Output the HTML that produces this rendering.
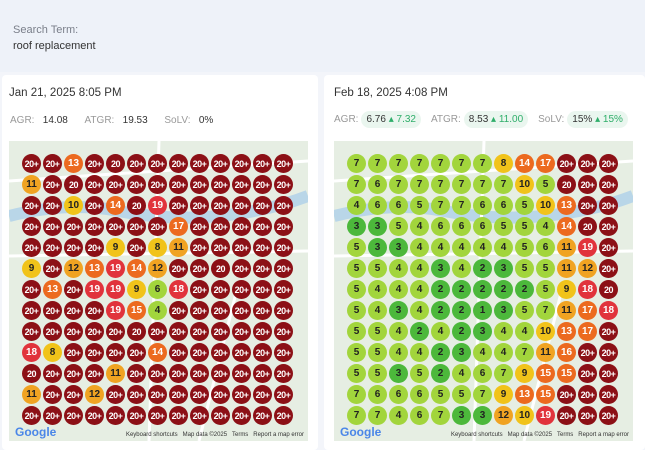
<!DOCTYPE html>
<html><head><meta charset="utf-8"><style>
*{margin:0;padding:0;box-sizing:border-box}
body{width:645px;height:450px;overflow:hidden;background:#f3f5fa;font-family:"Liberation Sans",sans-serif;position:relative}
.top{position:absolute;left:0;top:0;width:645px;height:72px;background:#eef2f9}
.lbl{position:absolute;left:13px;top:24px;font-size:11px;color:#7a7f8a}
.term{position:absolute;left:13px;top:40px;font-size:11px;color:#333}
.card{position:absolute;top:75px;height:375px;background:#fff;border-radius:4px}
.date{position:absolute;top:12px;font-size:11.5px;color:#333}
.stats{position:absolute;top:40px;font-size:10px;color:#999;display:flex;align-items:center;white-space:nowrap}
.stats b{font-weight:normal;color:#333}
.pill{background:#eaf6ef;border-radius:9px;padding:3px 5px;color:#333;margin-left:3px;margin-right:10px;white-space:nowrap;display:inline-block}
.pill s{text-decoration:none;color:#2fae6a}
.map{position:absolute;top:141px;width:299px;height:300px;background:#e6eee3;overflow:hidden}
.grid{position:absolute;top:153px;display:grid;grid-template-columns:repeat(13,21px);grid-auto-rows:21px}
.grid i{font-style:normal;width:19px;height:19px;margin:1px;border-radius:50%;display:flex;align-items:center;justify-content:center;font-size:10px;font-weight:bold;color:#222}
.a{background:#4cb83b}.b{background:#a2d53c}.c{background:#f1c31a}.d{background:#f0a322}
.e{background:#ec6a1f;color:#fff!important}.f{background:#e1333c;color:#fff!important}.x{background:#8c1016;color:#fff!important;font-size:9px!important;letter-spacing:-.5px}
.ft{position:absolute;bottom:3px;right:4px;font-size:6px;color:#333}
.g{position:absolute;bottom:2px;left:6px;font-size:12px;font-weight:bold;color:#4a86e8}
</style></head><body>
<div class="top"></div>
<div class="lbl">Search Term:</div>
<div class="term">roof replacement</div>

<div class="card" style="left:2px;width:316px">
<div class="date" style="left:7px">Jan 21, 2025 8:05 PM</div>
<div class="stats" style="left:8px">AGR:&nbsp;&nbsp;&nbsp;<b>14.08</b>&nbsp;&nbsp;&nbsp;&nbsp;&nbsp;&nbsp;ATGR:&nbsp;&nbsp;&nbsp;<b>19.53</b>&nbsp;&nbsp;&nbsp;&nbsp;&nbsp;&nbsp;SoLV:&nbsp;&nbsp;&nbsp;<b>0%</b></div>
</div>
<div class="card" style="left:324px;width:321px">
<div class="date" style="left:10px">Feb 18, 2025 4:08 PM</div>
<div class="stats" style="left:10px;top:36px">AGR:<span class="pill">6.76 <s>▴ 7.32</s></span>ATGR:<span class="pill">8.53 <s>▴ 11.00</s></span>SoLV:<span class="pill">15% <s>▴ 15%</s></span></div>
</div>

<div class="map" style="left:9px"><svg width="299" height="300"><path d="M0 75 Q60 60 110 70 T210 75 T299 55" stroke="#b9d6e8" stroke-width="12" fill="none"/><path d="M0 40 L299 20 M0 115 L299 110 M150 0 L140 300 M230 140 L190 300" stroke="#fff" stroke-width="3" fill="none"/></svg>
<div class="g">Google</div><div class="ft">Keyboard shortcuts &nbsp; Map data ©2025 &nbsp; Terms &nbsp; Report a map error</div></div>
<div class="map" style="left:334px"><svg width="299" height="300"><path d="M0 75 Q60 60 110 70 T210 75 T299 55" stroke="#b9d6e8" stroke-width="12" fill="none"/><path d="M0 40 L299 20 M0 115 L299 110 M150 0 L140 300 M230 140 L190 300" stroke="#fff" stroke-width="3" fill="none"/></svg>
<div class="g">Google</div><div class="ft">Keyboard shortcuts &nbsp; Map data ©2025 &nbsp; Terms &nbsp; Report a map error</div></div>

<div class="grid" style="left:21px">
<i class="x">20+</i><i class="x">20+</i><i class="e">13</i><i class="x">20+</i><i class="x">20</i><i class="x">20+</i><i class="x">20+</i><i class="x">20+</i><i class="x">20+</i><i class="x">20+</i><i class="x">20+</i><i class="x">20+</i><i class="x">20+</i>
<i class="d">11</i><i class="x">20+</i><i class="x">20</i><i class="x">20+</i><i class="x">20+</i><i class="x">20+</i><i class="x">20+</i><i class="x">20+</i><i class="x">20+</i><i class="x">20+</i><i class="x">20+</i><i class="x">20+</i><i class="x">20+</i>
<i class="x">20+</i><i class="x">20+</i><i class="c">10</i><i class="x">20+</i><i class="e">14</i><i class="x">20</i><i class="f">19</i><i class="x">20+</i><i class="x">20+</i><i class="x">20+</i><i class="x">20+</i><i class="x">20+</i><i class="x">20+</i>
<i class="x">20+</i><i class="x">20+</i><i class="x">20+</i><i class="x">20+</i><i class="x">20+</i><i class="x">20+</i><i class="x">20+</i><i class="e">17</i><i class="x">20+</i><i class="x">20+</i><i class="x">20+</i><i class="x">20+</i><i class="x">20+</i>
<i class="x">20+</i><i class="x">20+</i><i class="x">20+</i><i class="x">20+</i><i class="c">9</i><i class="x">20+</i><i class="c">8</i><i class="d">11</i><i class="x">20+</i><i class="x">20+</i><i class="x">20+</i><i class="x">20+</i><i class="x">20+</i>
<i class="c">9</i><i class="x">20+</i><i class="d">12</i><i class="e">13</i><i class="f">19</i><i class="e">14</i><i class="d">12</i><i class="x">20+</i><i class="x">20+</i><i class="x">20</i><i class="x">20+</i><i class="x">20+</i><i class="x">20+</i>
<i class="x">20+</i><i class="e">13</i><i class="x">20+</i><i class="f">19</i><i class="f">19</i><i class="c">9</i><i class="b">6</i><i class="f">18</i><i class="x">20+</i><i class="x">20+</i><i class="x">20+</i><i class="x">20+</i><i class="x">20+</i>
<i class="x">20+</i><i class="x">20+</i><i class="x">20+</i><i class="x">20+</i><i class="f">19</i><i class="e">15</i><i class="b">4</i><i class="x">20+</i><i class="x">20+</i><i class="x">20+</i><i class="x">20+</i><i class="x">20+</i><i class="x">20+</i>
<i class="x">20+</i><i class="x">20+</i><i class="x">20+</i><i class="x">20+</i><i class="x">20+</i><i class="x">20</i><i class="x">20+</i><i class="x">20+</i><i class="x">20+</i><i class="x">20+</i><i class="x">20+</i><i class="x">20+</i><i class="x">20+</i>
<i class="f">18</i><i class="c">8</i><i class="x">20+</i><i class="x">20+</i><i class="x">20+</i><i class="x">20+</i><i class="e">14</i><i class="x">20+</i><i class="x">20+</i><i class="x">20+</i><i class="x">20+</i><i class="x">20+</i><i class="x">20+</i>
<i class="x">20</i><i class="x">20+</i><i class="x">20+</i><i class="x">20+</i><i class="d">11</i><i class="x">20+</i><i class="x">20+</i><i class="x">20+</i><i class="x">20+</i><i class="x">20+</i><i class="x">20+</i><i class="x">20+</i><i class="x">20+</i>
<i class="d">11</i><i class="x">20+</i><i class="x">20+</i><i class="d">12</i><i class="x">20+</i><i class="x">20+</i><i class="x">20+</i><i class="x">20+</i><i class="x">20+</i><i class="x">20+</i><i class="x">20+</i><i class="x">20+</i><i class="x">20+</i>
<i class="x">20+</i><i class="x">20+</i><i class="x">20+</i><i class="x">20+</i><i class="x">20+</i><i class="x">20+</i><i class="x">20+</i><i class="x">20+</i><i class="x">20+</i><i class="x">20+</i><i class="x">20+</i><i class="x">20+</i><i class="x">20+</i>
</div>

<div class="grid" style="left:346px">
<i class="b">7</i><i class="b">7</i><i class="b">7</i><i class="b">7</i><i class="b">7</i><i class="b">7</i><i class="b">7</i><i class="c">8</i><i class="e">14</i><i class="e">17</i><i class="x">20+</i><i class="x">20+</i><i class="x">20+</i>
<i class="b">7</i><i class="b">6</i><i class="b">7</i><i class="b">7</i><i class="b">7</i><i class="b">7</i><i class="b">7</i><i class="b">7</i><i class="c">10</i><i class="b">5</i><i class="x">20</i><i class="x">20+</i><i class="x">20+</i>
<i class="b">4</i><i class="b">6</i><i class="b">6</i><i class="b">5</i><i class="b">7</i><i class="b">7</i><i class="b">6</i><i class="b">6</i><i class="b">5</i><i class="c">10</i><i class="e">13</i><i class="x">20+</i><i class="x">20+</i>
<i class="a">3</i><i class="a">3</i><i class="b">5</i><i class="b">4</i><i class="b">6</i><i class="b">6</i><i class="b">6</i><i class="b">5</i><i class="b">5</i><i class="b">4</i><i class="e">14</i><i class="x">20</i><i class="x">20+</i>
<i class="b">5</i><i class="a">3</i><i class="a">3</i><i class="b">4</i><i class="b">4</i><i class="b">4</i><i class="b">4</i><i class="b">4</i><i class="b">5</i><i class="b">6</i><i class="d">11</i><i class="f">19</i><i class="x">20+</i>
<i class="b">5</i><i class="b">5</i><i class="b">4</i><i class="b">4</i><i class="a">3</i><i class="b">4</i><i class="a">2</i><i class="a">3</i><i class="b">5</i><i class="b">5</i><i class="d">11</i><i class="d">12</i><i class="x">20+</i>
<i class="b">5</i><i class="b">4</i><i class="b">4</i><i class="b">4</i><i class="a">2</i><i class="a">2</i><i class="a">2</i><i class="a">2</i><i class="a">2</i><i class="b">5</i><i class="c">9</i><i class="f">18</i><i class="x">20</i>
<i class="b">5</i><i class="b">4</i><i class="a">3</i><i class="b">4</i><i class="a">2</i><i class="a">2</i><i class="a">1</i><i class="a">3</i><i class="b">5</i><i class="b">7</i><i class="d">11</i><i class="e">17</i><i class="f">18</i>
<i class="b">5</i><i class="b">5</i><i class="b">4</i><i class="a">2</i><i class="b">4</i><i class="a">2</i><i class="a">3</i><i class="b">4</i><i class="b">4</i><i class="c">10</i><i class="e">13</i><i class="e">17</i><i class="x">20+</i>
<i class="b">5</i><i class="b">5</i><i class="b">4</i><i class="b">4</i><i class="a">2</i><i class="a">3</i><i class="b">4</i><i class="b">4</i><i class="b">7</i><i class="d">11</i><i class="e">16</i><i class="x">20+</i><i class="x">20+</i>
<i class="b">5</i><i class="b">5</i><i class="a">3</i><i class="b">5</i><i class="a">2</i><i class="b">4</i><i class="b">6</i><i class="b">7</i><i class="c">9</i><i class="e">15</i><i class="e">15</i><i class="x">20+</i><i class="x">20+</i>
<i class="b">7</i><i class="b">6</i><i class="b">6</i><i class="b">6</i><i class="b">5</i><i class="b">5</i><i class="b">7</i><i class="c">9</i><i class="e">13</i><i class="e">15</i><i class="x">20+</i><i class="x">20+</i><i class="x">20+</i>
<i class="b">7</i><i class="b">7</i><i class="b">4</i><i class="b">6</i><i class="b">7</i><i class="a">3</i><i class="a">3</i><i class="d">12</i><i class="c">10</i><i class="f">19</i><i class="x">20+</i><i class="x">20+</i><i class="x">20+</i>
</div>
</body></html>
